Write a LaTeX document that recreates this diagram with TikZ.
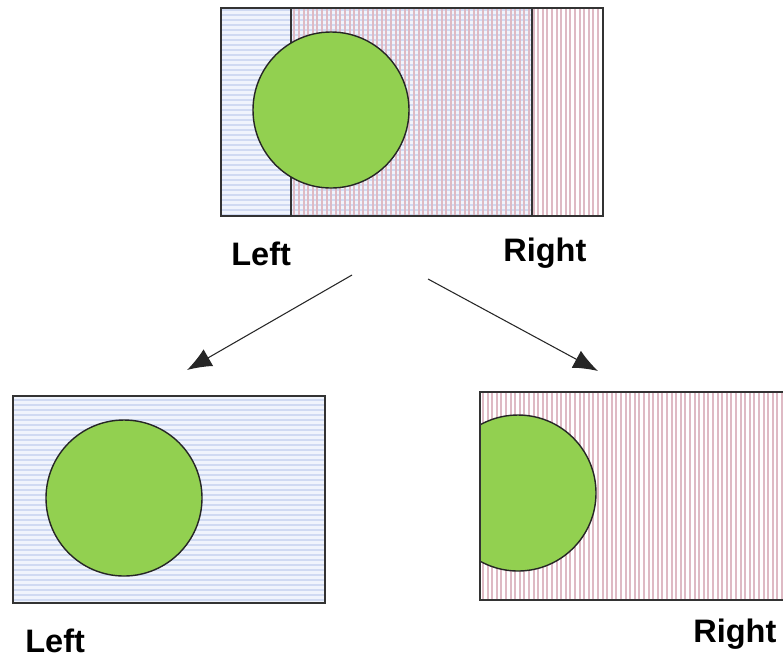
\documentclass[tikz,border=0pt]{standalone}
\usepackage{fontspec}
\setmainfont{Liberation Sans}
\usetikzlibrary{arrows.meta}
\definecolor{ballgreen}{RGB}{146,208,80}
\definecolor{hblue}{RGB}{208,218,242}
\definecolor{hback}{RGB}{240,244,252}
\definecolor{vred}{RGB}{222,186,196}
\tikzset{
    frame/.style={draw=black!80, line width=0.9pt},
    ball/.style={draw=black!85, fill=ballgreen, line width=0.8pt},
    label/.style={font=\bfseries\fontsize{18.5}{22}\selectfont, anchor=base west, inner sep=0pt},
    split/.style={-{Latex[length=14pt,width=11pt]}, black!85, line width=0.6pt}
}
% horizontal stripes for the left view, vertical ones for the right view
\newcommand{\leftstripes}[4]{%
    \begin{scope}
        \clip (#1,#2) rectangle (#3,#4);
        \fill[hback] (#1,#2) rectangle (#3,#4);
        \foreach \y in {0,5,...,660} \draw[hblue, line width=1.1pt] (#1,\y) -- (#3,\y);
    \end{scope}}
\newcommand{\rightstripes}[4]{%
    \begin{scope}
        \clip (#1,#2) rectangle (#3,#4);
        \foreach \x in {0,4.6,...,800} \draw[vred, line width=1.1pt] (\x,#2) -- (\x,#4);
    \end{scope}}
\begin{document}
\begin{tikzpicture}[x=0.02cm, y=-0.02cm]
    \clip (0,0) rectangle (783,657);
    \fill[white] (0,0) rectangle (783,657);

    % full frame with both views
    \leftstripes{221}{8}{532}{216}
    \rightstripes{291}{8}{603}{216}
    \draw[frame] (221,8) rectangle (532,216);
    \draw[frame] (291,8) rectangle (603,216);
    \draw[ball] (331,110) circle (78);

    \node[label] (topleft) at (231,265) {Left};
    \node[label] (topright) at (503,261) {Right};

    % left view
    \leftstripes{13}{396}{325}{603}
    \draw[frame] (13,396) rectangle (325,603);
    \draw[ball] (124,498) circle (78);
    \node[label] (botleft) at (25,652) {Left};

    % right view
    \rightstripes{480}{392}{800}{600}
    \begin{scope}
        \clip (480,392) rectangle (800,600);
        \draw[ball] (518,493) circle (78);
    \end{scope}
    \draw[frame] (480,392) rectangle (800,600);
    \node[label] (botright) at (693,642) {Right};

    \coordinate (fromL) at (352,275);
    \coordinate (toL) at (187,370);
    \coordinate (fromR) at (428,279);
    \coordinate (toR) at (598,371);
    \draw[split] (fromL) -- (toL);
    \draw[split] (fromR) -- (toR);
\end{tikzpicture}
\end{document}
